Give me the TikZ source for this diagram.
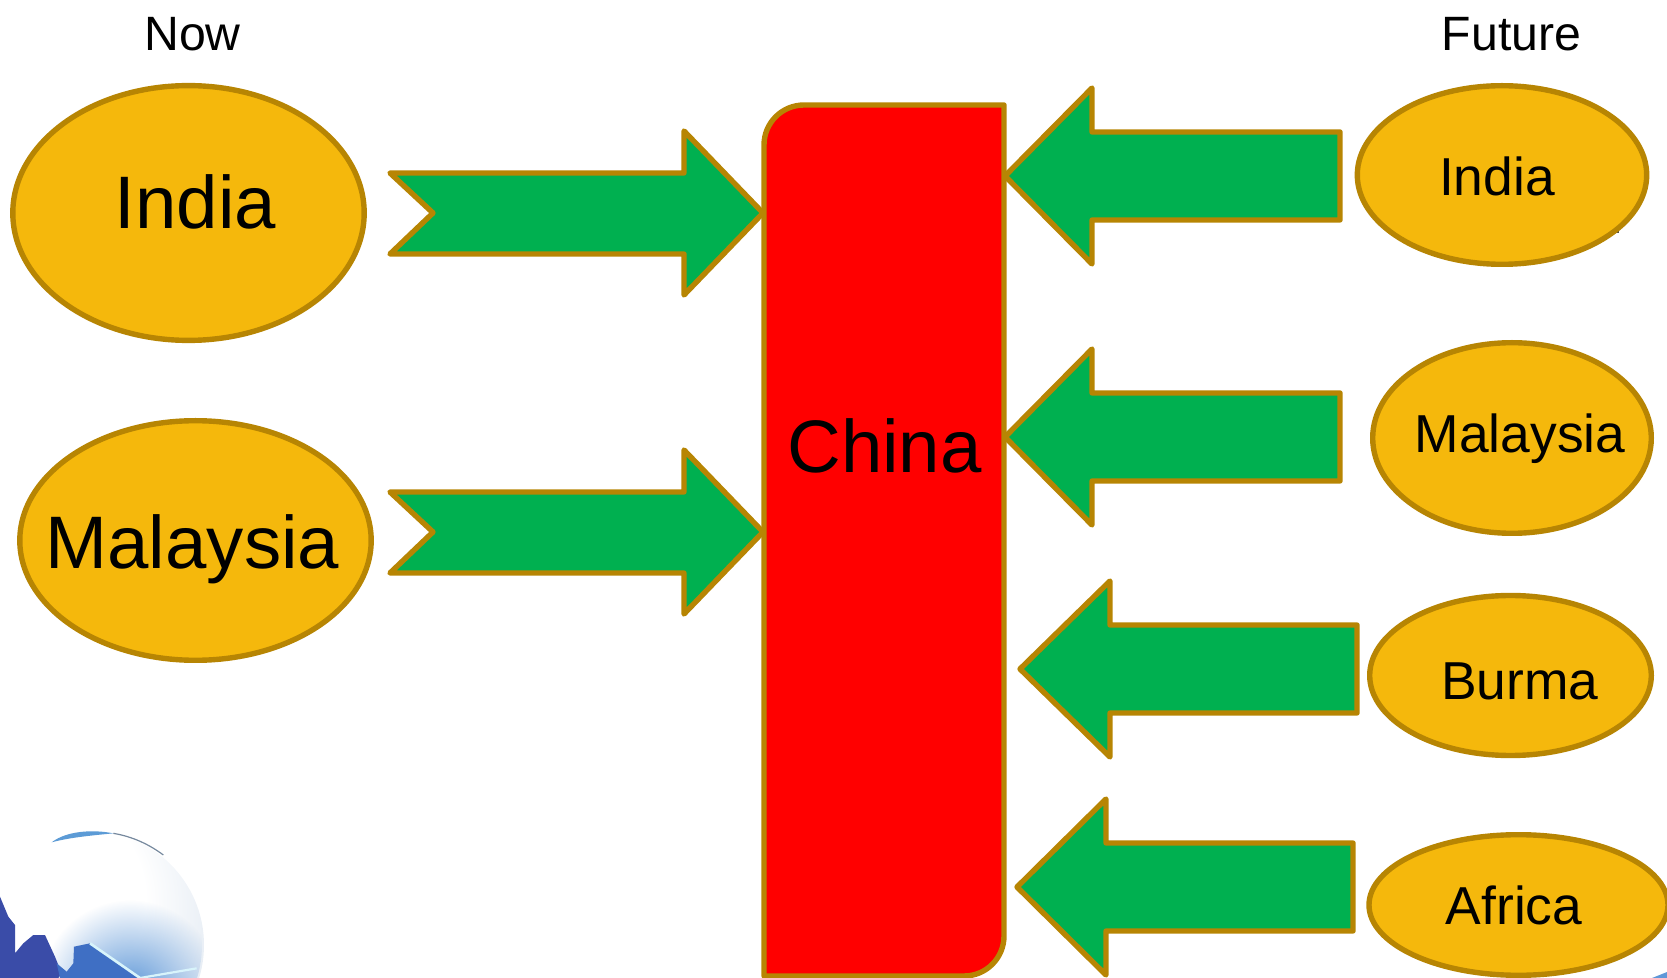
\documentclass[tikz,border=0pt]{standalone}
\usepackage{fontspec}
\setmainfont{Liberation Sans}
\usetikzlibrary{shapes.geometric,fadings}
\definecolor{goldfill}{HTML}{F5B80C}
\definecolor{goldline}{HTML}{B78503}
\definecolor{arrowgreen}{HTML}{00B050}
\definecolor{landdark}{HTML}{3A4CA8}
\definecolor{landmid}{HTML}{3F6FC4}
\definecolor{seablue}{HTML}{5F98D8}
\definecolor{rimblue}{HTML}{A9C4E2}
\definecolor{rimpale}{HTML}{E8EEF5}
\definecolor{raycol}{HTML}{D8F4FB}
\definecolor{streak}{HTML}{5C9BD6}
\pgfdeclareradialshading{globeshade}{\pgfpoint{-17bp}{14bp}}{
  color(0bp)=(white); color(24bp)=(white); color(36bp)=(rimpale);
  color(46bp)=(rimblue!75!white); color(54bp)=(rimblue); color(80bp)=(rimblue)}
\tikzfading[name=seafade,inner color=transparent!0,outer color=transparent!100]
\tikzset{
  blob/.style={ellipse,draw=goldline,fill=goldfill,line width=2.7pt,inner sep=0pt},
  bigtext/.style={anchor=base,font=\fontsize{37.2}{40}\selectfont,text=black,inner sep=0pt},
  smalltext/.style={anchor=base,font=\fontsize{26.7}{30}\selectfont,text=black,inner sep=0pt},
  headtext/.style={anchor=base,font=\fontsize{24.1}{28}\selectfont,text=black,inner sep=0pt},
  blockarrow/.style={draw=goldline,fill=arrowgreen,line width=2.7pt,line join=round},
  chinabar/.style={draw=goldline,fill=red,line width=2.7pt,line join=round}
}
% #1 tip x, #2 tip y, #3 head base x, #4 tail x
\newcommand{\leftblock}[4]{\draw[blockarrow] (#1,#2) -- (#3,#2-88) -- (#3,#2-44) -- (#4,#2-44) -- (#4,#2+44) -- (#3,#2+44) -- (#3,#2+88) -- cycle;}
% #1 tip y
\newcommand{\notchblock}[1]{\draw[blockarrow] (763,#1) -- (684,#1-82) -- (684,#1-40) -- (390,#1-40) -- (433,#1) -- (390,#1+41) -- (684,#1+41) -- (684,#1+82) -- cycle;}
\begin{document}
\begin{tikzpicture}[x=0.5pt,y=-0.5pt]
\useasboundingbox (0,0) rectangle (1667,978);
% globe
\begin{scope}
\clip (0,800) rectangle (260,978);
\shade[shading=globeshade] (90,945) circle[radius=114];
\begin{scope}
\clip (90,945) circle[radius=112];
\fill[seablue,path fading=seafade] (130,990) circle[radius=90];
\end{scope}
\begin{scope}[yshift=-400pt,x=0.16667pt,y=-0.16667pt]
\fill[landdark]
  (0,290) -- (25,350) -- (45,375) -- (45,460) -- (70,430) -- (100,405) -- (135,405) -- (165,470) -- (185,520) -- (175,534) -- (0,534) -- cycle;
\fill[landmid]
  (170,490) -- (200,515) -- (220,490) -- (222,440) -- (270,430) -- (410,525) -- (420,534) -- (180,534) -- cycle;
\draw[raycol,line width=1.3pt] (270,430) -- (420,534);
\draw[raycol,line width=1.1pt] (420,534) -- (590,505);
\fill[streak] (155,127) .. controls (200,92) and (280,88) .. (340,100) .. controls (280,106) and (210,112) .. (155,127) -- cycle;
\draw[rimblue!70!black,line width=0.6pt] (340,100) .. controls (400,110) and (450,135) .. (490,165);
\end{scope}
\end{scope}
% speck beside the upper right ellipse
\fill[black!70] (1616,231) rectangle (1619,233);
% corner speck
\fill[seablue] (1667,978) -- (1652,978) -- (1667,972) -- cycle;
% bar
\draw[chinabar] (764,145) arc[start angle=180,end angle=270,radius=40] -- (1004,105) -- (1004,936) arc[start angle=0,end angle=90,radius=40] -- (764,976) -- cycle;
% arrows
\notchblock{213}
\notchblock{532}
\leftblock{1005}{176}{1092}{1340}
\leftblock{1005}{437}{1092}{1340}
\leftblock{1020}{669}{1110}{1357}
\leftblock{1017}{887}{1106}{1353}
% ellipses
\node[blob,minimum width=175.7pt,minimum height=127.4pt] (nowIndia) at (188.5,213) {};
\node[blob,minimum width=175.7pt,minimum height=119.8pt] (nowMalaysia) at (195.5,540.5) {};
\node[blob,minimum width=144.7pt,minimum height=89.3pt] (futIndia) at (1502,175) {};
\node[blob,minimum width=139.3pt,minimum height=95.3pt] (futMalaysia) at (1512,438) {};
\node[blob,minimum width=140.8pt,minimum height=80pt] (futBurma) at (1510.5,675.5) {};
\node[blob,minimum width=149.5pt,minimum height=70.3pt] (futAfrica) at (1518.5,905) {};
% texts
\node[headtext] (now) at (192.5,51) {Now};
\node[headtext] (future) at (1511.5,51) {Future};
\node[bigtext] (tIndia) at (195.6,228.6) {India};
\node[bigtext] (tMalaysia) at (192.4,569) {Malaysia};
\node[bigtext] (tChina) at (884.5,473) {China};
\node[smalltext] (tfIndia) at (1497,196) {India};
\node[smalltext] (tfMalaysia) at (1520,453) {Malaysia};
\node[smalltext] (tfBurma) at (1520,699.5) {Burma};
\node[smalltext] (tfAfrica) at (1514,924) {Africa};
\end{tikzpicture}
\end{document}
